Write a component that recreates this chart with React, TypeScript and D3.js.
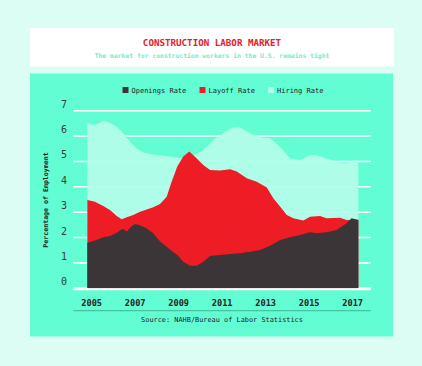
import * as d3 from 'd3';
import React from 'react';

// [year, rate %]
const openings: [number, number][] = [
  [2004.8, 1.8], [2005.15, 1.88], [2005.53, 2.01], [2005.84, 2.06], [2006.15, 2.19],
  [2006.42, 2.35], [2006.62, 2.24], [2006.8, 2.43], [2006.99, 2.53], [2007.22, 2.49],
  [2007.53, 2.36], [2007.83, 2.17], [2008.14, 1.84], [2008.45, 1.64], [2008.7, 1.46],
  [2008.95, 1.3], [2009.21, 1.05], [2009.52, 0.89], [2009.83, 0.89], [2010.13, 1.05],
  [2010.44, 1.27], [2010.9, 1.31], [2011.36, 1.35], [2011.82, 1.38], [2012.28, 1.44],
  [2012.74, 1.51], [2013.2, 1.68], [2013.66, 1.9], [2014.12, 2.01], [2014.58, 2.1],
  [2015.04, 2.21], [2015.34, 2.17], [2015.8, 2.21], [2016.26, 2.3], [2016.72, 2.56],
  [2016.95, 2.76], [2017.26, 2.69],
];

const layoffs: [number, number][] = [
  [2004.8, 3.48], [2005.15, 3.41], [2005.53, 3.24], [2005.84, 3.09], [2006.15, 2.85],
  [2006.38, 2.72], [2006.61, 2.8], [2006.91, 2.89], [2007.22, 3.02], [2007.53, 3.11],
  [2007.83, 3.19], [2008.14, 3.32], [2008.45, 3.61], [2008.65, 4.14], [2008.93, 4.79],
  [2009.21, 5.19], [2009.49, 5.39], [2009.83, 5.12], [2010.13, 4.86], [2010.44, 4.66],
  [2010.9, 4.64], [2011.36, 4.69], [2011.67, 4.6], [2012.13, 4.34], [2012.59, 4.2],
  [2013.05, 3.97], [2013.35, 3.55], [2013.66, 3.22], [2013.97, 2.89], [2014.27, 2.76],
  [2014.73, 2.67], [2015.04, 2.82], [2015.5, 2.85], [2015.8, 2.76], [2016.42, 2.78],
  [2016.72, 2.69], [2017.26, 2.7],
];

const hires: [number, number][] = [
  [2004.8, 6.53], [2005.07, 6.43], [2005.3, 6.5], [2005.53, 6.6], [2005.84, 6.53],
  [2006.15, 6.37], [2006.45, 6.11], [2006.76, 5.78], [2007.07, 5.52], [2007.37, 5.35],
  [2007.68, 5.29], [2008.14, 5.24], [2008.6, 5.19], [2009.06, 5.14], [2009.5, 5.16],
  [2009.83, 5.3], [2010.13, 5.45], [2010.59, 5.85], [2011.05, 6.11], [2011.51, 6.35],
  [2011.82, 6.35], [2012.28, 6.11], [2012.74, 5.95], [2013.2, 5.91], [2013.66, 5.58],
  [2014.12, 5.12], [2014.58, 5.06], [2015.04, 5.25], [2015.34, 5.25], [2015.8, 5.12],
  [2016.26, 4.99], [2016.72, 4.93], [2017.03, 5.03], [2017.26, 5.06],
];

const yTicks = [0, 1, 2, 3, 4, 5, 6, 7];
const xTicks = [2005, 2007, 2009, 2011, 2013, 2015, 2017];
const legend = [
  { label: 'Openings Rate', color: '#3b3537' },
  { label: 'Layoff Rate', color: '#ee1c25' },
  { label: 'Hiring Rate', color: '#b2fde9' },
];

const mono = '"DejaVu Sans Mono", monospace';

const App = () => {
  const x = d3.scaleLinear().domain([2005, 2017]).range([91.7, 352.7]);
  const y = d3.scaleLinear().domain([0, 7]).range([288.3, 110.7]);
  const area = d3
    .area<[number, number]>()
    .x(d => x(d[0]))
    .y0(y(0))
    .y1(d => y(d[1]));

  return (
    <svg
      width={422}
      height={366}
      style={{ position: 'absolute', left: 0, top: 0, display: 'block' }}
    >
      <rect width={422} height={366} fill="#dcfdf4" />
      <rect x={30} y={28} width={364} height={38.5} fill="#ffffff" />
      <text x={212} y={45.5} textAnchor="middle" fill="#e5202b" fontFamily={mono} fontWeight="bold" fontSize={9.2}>
        CONSTRUCTION LABOR MARKET
      </text>
      <text x={212} y={57.5} textAnchor="middle" fill="#72ecce" fontFamily={mono} fontWeight="bold" fontSize={6.4}>
        The market for construction workers in the U.S. remains tight
      </text>
      <rect x={30} y={73.5} width={363} height={263} fill="#62fdd2" />

      {/* legend */}
      {legend.map((l, i) => {
        const lx = [122.5, 199.5, 268][i];
        return (
          <g key={l.label}>
            <rect x={lx} y={87} width={6} height={6} fill={l.color} />
            <text x={lx + 9} y={93} fill="#222" fontFamily={mono} fontSize={7}>
              {l.label}
            </text>
          </g>
        );
      })}

      {/* grid */}
      {yTicks.map(t => (
        <g key={t}>
          <line x1={73.3} x2={370.7} y1={y(t)} y2={y(t)} stroke="#ffffff" strokeWidth={t === 0 ? 2 : 1.5} />
          <text x={64} y={y(t) - 3} textAnchor="middle" fill="#3a3a3a" fontFamily={mono} fontSize={10}>
            {t}
          </text>
        </g>
      ))}

      <path d={area(hires) ?? ''} fill="#b2fde9" fillOpacity={0.94} />
      <path d={area(layoffs) ?? ''} fill="#ee1c25" />
      <path d={area(openings) ?? ''} fill="#3b3537" />
      <line x1={73.3} x2={370.7} y1={y(0) + 1} y2={y(0) + 1} stroke="#ffffff" strokeWidth={2} />

      <text
        transform={`translate(47.5,200) rotate(-90)`}
        textAnchor="middle"
        fill="#222"
        fontFamily={mono}
        fontWeight="bold"
        fontSize={6.6}
      >
        Percentage of Employment
      </text>

      {xTicks.map(t => (
        <text key={t} x={x(t)} y={306} textAnchor="middle" fill="#222" fontFamily={mono} fontWeight="bold" fontSize={8.6}>
          {t}
        </text>
      ))}
      <line x1={73.3} x2={370.7} y1={310.7} y2={310.7} stroke="#2fa884" strokeWidth={0.8} />
      <text x={222} y={322} textAnchor="middle" fill="#222" fontFamily={mono} fontSize={6.9}>
        Source: NAHB/Bureau of Labor Statistics
      </text>
    </svg>
  );
};

export default App;
